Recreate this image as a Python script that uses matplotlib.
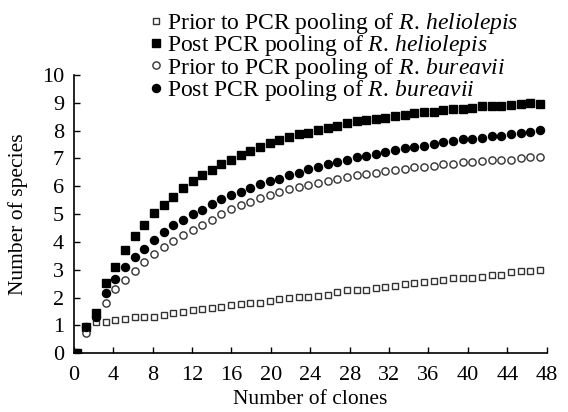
import numpy as np
import matplotlib
matplotlib.use("Agg")
import matplotlib.pyplot as plt

plt.rcParams['font.family'] = ['Liberation Serif', 'DejaVu Serif']
plt.rcParams['mathtext.fontset'] = 'custom'
plt.rcParams['mathtext.rm'] = 'Liberation Serif'
plt.rcParams['mathtext.it'] = 'Liberation Serif:italic'

clones = np.arange(49)

heliolepis_prior = [0, 0.9, 1.11, 1.14, 1.2, 1.25, 1.29, 1.29, 1.32, 1.38, 1.43, 1.49, 1.56,
                    1.58, 1.62, 1.65, 1.73, 1.76, 1.79, 1.8, 1.88, 1.94, 1.98, 2.03, 2.03,
                    2.06, 2.1, 2.21, 2.26, 2.27, 2.26, 2.36, 2.39, 2.43, 2.49, 2.52, 2.55,
                    2.58, 2.63, 2.7, 2.71, 2.71, 2.75, 2.8, 2.83, 2.92, 2.94, 2.94, 2.99]
heliolepis_post = [0, 0.95, 1.46, 2.54, 3.1, 3.7, 4.2, 4.62, 5.04, 5.33, 5.63, 5.93, 6.19,
                   6.4, 6.6, 6.8, 6.96, 7.12, 7.27, 7.42, 7.54, 7.68, 7.77, 7.87, 7.93,
                   8.01, 8.1, 8.17, 8.27, 8.33, 8.39, 8.43, 8.46, 8.52, 8.58, 8.63, 8.68,
                   8.68, 8.73, 8.77, 8.76, 8.82, 8.87, 8.87, 8.9, 8.92, 8.96, 8.98, 8.96]
bureavii_prior = [0, 0.73, 1.32, 1.82, 2.3, 2.63, 2.95, 3.27, 3.58, 3.82, 4.05, 4.26, 4.44,
                  4.62, 4.8, 5.01, 5.18, 5.33, 5.45, 5.57, 5.69, 5.81, 5.89, 5.99, 6.06,
                  6.13, 6.19, 6.27, 6.35, 6.4, 6.44, 6.49, 6.54, 6.58, 6.63, 6.68, 6.68,
                  6.74, 6.8, 6.8, 6.86, 6.89, 6.92, 6.96, 6.96, 6.96, 7.01, 7.04, 7.06]
bureavii_post = [0, 0.95, 1.29, 2.18, 2.68, 3.1, 3.45, 3.76, 4.08, 4.35, 4.62, 4.8, 5.01,
                 5.15, 5.37, 5.54, 5.69, 5.81, 5.93, 6.08, 6.19, 6.27, 6.39, 6.49, 6.61,
                 6.7, 6.79, 6.88, 6.96, 7.04, 7.1, 7.15, 7.23, 7.32, 7.37, 7.42, 7.44,
                 7.51, 7.6, 7.63, 7.69, 7.7, 7.75, 7.8, 7.82, 7.87, 7.92, 7.96, 8.01]

labels = [r"Prior to PCR pooling of $\it{R.\,heliolepis}$",
          r"Post PCR pooling of $\it{R.\,heliolepis}$",
          r"Prior to PCR pooling of $\it{R.\,bureavii}$",
          r"Post PCR pooling of $\it{R.\,bureavii}$"]
xticks = list(range(0, 49, 4))
yticks = list(range(0, 11))

# category placement (Excel-style category axis)
xpos = 0.3 + clones * (47.0 / 48.0)

fig = plt.figure(figsize=(5.68, 4.12), dpi=100)
ax = fig.add_axes([0.130, 0.1425, 0.8325, 0.6755])

h1, = ax.plot(xpos, heliolepis_prior, ls='none', marker='s', ms=4.2, mfc='white',
              mec='#333333', mew=1.0, label=labels[0])
h2, = ax.plot(xpos, heliolepis_post, ls='none', marker='s', ms=5.8, mfc='black',
              mec='black', label=labels[1])
h3, = ax.plot(xpos, bureavii_prior, ls='none', marker='o', ms=5.2, mfc='white',
              mec='#333333', mew=1.0, label=labels[2])
h4, = ax.plot(xpos, bureavii_post, ls='none', marker='o', ms=5.8, mfc='black',
              mec='black', label=labels[3])

ax.set_xlim(0, 48)
ax.set_ylim(0, 10)
ax.set_xticks(xticks)
ax.set_yticks(yticks)
ax.tick_params(direction='in', length=4, width=1, labelsize=16)
ax.tick_params(axis='x', pad=9)
ax.tick_params(axis='y', pad=7)
for s in ['top', 'right']:
    ax.spines[s].set_visible(False)
for s in ['left', 'bottom']:
    ax.spines[s].set_linewidth(1.2)

ax.set_xlabel("Number of clones", fontsize=15.5, labelpad=4)
ax.set_ylabel("Number of species", fontsize=15.5, labelpad=10)

leg = fig.legend(handles=[h1, h2, h3, h4], loc='upper left',
                 bbox_to_anchor=(0.2385, 1.008), frameon=False, fontsize=17,
                 handlelength=0.5, handletextpad=0.25, labelspacing=-0.11,
                 borderpad=0.1, markerscale=1.0)

fig.savefig("out.png", dpi=100)
